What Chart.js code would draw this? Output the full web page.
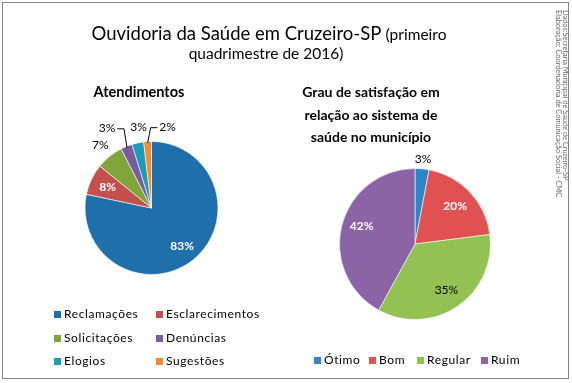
<!DOCTYPE html>
<html><head><meta charset="utf-8">
<script src="https://cdn.jsdelivr.net/npm/chart.js@4/dist/chart.umd.min.js"></script>
<style>
html,body{margin:0;padding:0;background:#fff;}
#wrap{position:relative;width:572px;height:383px;overflow:hidden;font-family:Lato,"Open Sans",sans-serif;color:#000;}
canvas{position:absolute;left:0;top:0;}
.frame{position:absolute;left:2px;top:2px;width:565px;height:375px;border:1.5px solid #868686;}
.t{position:absolute;white-space:nowrap;text-align:center;}
.leg{position:absolute;font-size:12px;letter-spacing:0.6px;white-space:nowrap;line-height:14px;}
.leg span.sq{display:inline-block;width:7px;height:7px;margin-right:3px;vertical-align:0px;}
.vert{position:absolute;writing-mode:vertical-rl;font-size:7.4px;color:#6a6a6a;line-height:7px;white-space:nowrap;}
</style></head>
<body><div id="wrap">
<div class="frame"></div>
<canvas id="c1" width="572" height="383"></canvas>
<canvas id="c2" width="572" height="383"></canvas>
<div class="t" style="left:0;width:538px;top:22px;font-size:18.5px;line-height:22px;">Ouvidoria da Saúde em Cruzeiro-SP <span style="font-size:15.5px">(primeiro</span></div>
<div class="t" style="left:0;width:532px;top:42px;font-size:15.5px;line-height:22px;">quadrimestre de 2016)</div>
<div class="t" id="st1" style="left:39px;width:200px;top:82px;font-size:14.5px;font-weight:bold;line-height:20px;"></div>
<div class="t" id="st2" style="left:271px;width:200px;top:81px;font-size:14px;font-weight:bold;line-height:22.5px;"></div>
<div id="leg1"></div>
<div id="leg2"></div>
<div class="vert" style="left:555px;top:10px;">Dados:Secretaria Municipal de Saúde de Cruzeiro-SP<br>Elaboração: Coordenadoria de Comunicação Social - CMC</div>
</div>
<script>
// ---- data ----
const atendCategories = ["Reclamações","Esclarecimentos","Solicitações","Denúncias","Elogios","Sugestões"];
const atendValues = [83, 8, 7, 3, 3, 2];
const atendColors = ["#1f6fab","#c4504d","#7fa53c","#7b5b9e","#1c9cb6","#f58b31"];
const satisCategories = ["Ótimo","Bom","Regular","Ruim"];
const satisValues = [3, 20, 35, 42];
const satisColors = ["#2b87c9","#e05252","#93c152","#8b64a7"];
const atendTitle = "Atendimentos";
const satisTitle = ["Grau de satisfação em","relação ao sistema de","saúde no município"];

document.getElementById('st1').textContent = atendTitle;
document.getElementById('st2').innerHTML = satisTitle.join('<br>');

// legends
function legend(el, cats, cols, pos){
  const c = document.getElementById(el);
  cats.forEach((n,i)=>{
    const d = document.createElement('div');
    d.className='leg';
    d.style.left = pos[i][0]+'px'; d.style.top = pos[i][1]+'px';
    d.innerHTML = '<span class="sq" style="background:'+cols[i]+'"></span>'+n;
    c.appendChild(d);
  });
}
legend('leg1', atendCategories, atendColors, [[54,307],[156,307],[54,331],[156,331],[54,354],[156,354]]);
legend('leg2', satisCategories, satisColors, [[314,353],[369,353],[417,353],[481,353]]);

// label plugin
const labelPlugin = {
  id:'pieLabels',
  afterDatasetsDraw(chart){
    const cfg = chart.options.plugins.pieLabels;
    const ctx = chart.ctx;
    const ds = chart.data.datasets[0];
    const meta = chart.getDatasetMeta(0);
    ctx.save();
    meta.data.forEach((arc,i)=>{
      const p = arc.getProps(['x','y','startAngle','endAngle','outerRadius'],true);
      const mid = (p.startAngle+p.endAngle)/2;
      const f = cfg.factor[i];
      const lx = p.x + Math.cos(mid)*p.outerRadius*f + cfg.dx[i];
      const ly = p.y + Math.sin(mid)*p.outerRadius*f + cfg.dy[i];
      const txt = ds.data[i] + '%';
      ctx.font = (cfg.bold[i]?'bold ':'') + '12px Lato';
      ctx.fillStyle = cfg.color[i];
      ctx.textAlign='center'; ctx.textBaseline='middle';
      ctx.fillText(txt, lx, ly);
      if (cfg.leader[i]) {
        const w = ctx.measureText(txt).width;
        const ax = p.x + Math.cos(mid)*p.outerRadius*0.98;
        const ay = p.y + Math.sin(mid)*p.outerRadius*0.98;
        const side = ax > lx ? 1 : -1;
        const sx = lx + side*(w/2+2);
        ctx.beginPath();
        ctx.strokeStyle='#000'; ctx.lineWidth=1;
        ctx.moveTo(sx, ly+1);
        ctx.lineTo(ax - side*3, ly+1);
        ctx.lineTo(ax, ay);
        ctx.stroke();
      }
    });
    ctx.restore();
  }
};

function pie(id, cats, vals, cols, pad, lbl){
  return new Chart(document.getElementById(id), {
    type:'pie',
    data:{labels:cats, datasets:[{data:vals, backgroundColor:cols, borderColor:'rgba(255,255,255,0.6)', borderWidth:1}]},
    options:{
      responsive:false, animation:false, devicePixelRatio:1,
      layout:{padding:pad},
      plugins:{legend:{display:false}, tooltip:{enabled:false}, title:{display:false}, pieLabels:lbl}
    },
    plugins:[labelPlugin]
  });
}

pie('c1', atendCategories, atendValues, atendColors,
  {left:84.5, top:141, right:353.5, bottom:108},
  {factor:[0.73,0.73,1.22,1.22,1.24,1.24], dx:[0,0,0,-14,4,21], dy:[0,0,0,-5,0,1],
   color:['#fff','#fff','#000','#000','#000','#000'], bold:[true,true,false,false,false,false],
   leader:[false,false,false,true,false,true]});
pie('c2', satisCategories, satisValues, satisColors,
  {left:339, top:168, right:81, bottom:63},
  {factor:[1.13,0.73,0.74,0.73], dx:[0,0,0,0], dy:[0,0,0,-4],
   color:['#000','#fff','#000','#fff'], bold:[false,true,false,true],
   leader:[false,false,false,false]});
</script>
</body></html>
